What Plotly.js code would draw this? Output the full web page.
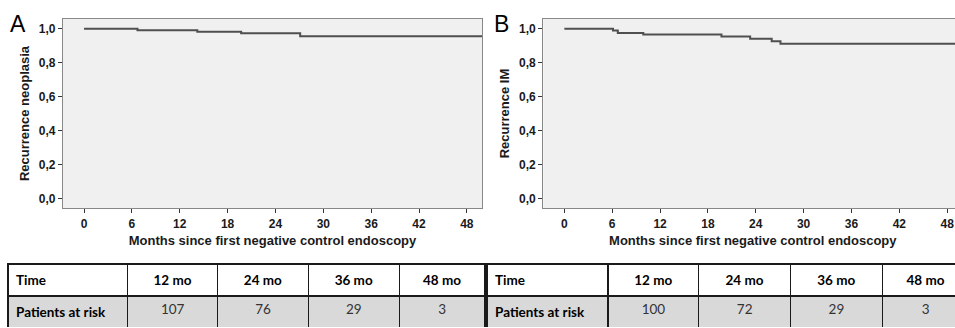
<!DOCTYPE html>
<html>
<head>
<meta charset="utf-8">
<script src="https://cdn.plot.ly/plotly-3.0.1.min.js"></script>
<style>
html,body{margin:0;padding:0;overflow:hidden;background:#fff;}
#chart{width:970px;height:328px;}
</style>
</head>
<body>
<div id="chart"></div>
<script>
// ---- data ----
var panelLetters = ["A", "B"];
var yTitles = ["Recurrence neoplasia", "Recurrence IM"];
var xTitle = "Months since first negative control endoscopy";

var timesA = [0, 6.7, 14.2, 19.7, 27.1, 50];
var survA  = [1.0, 0.991, 0.982, 0.973, 0.956, 0.956];

var timesB = [0, 6.1, 6.7, 9.9, 19.7, 23.3, 26.0, 27.1, 50];
var survB  = [1.0, 0.989, 0.974, 0.966, 0.954, 0.940, 0.926, 0.911, 0.911];

var xTickVals = [0, 6, 12, 18, 24, 30, 36, 42, 48];
var xTickText = ["0", "6", "12", "18", "24", "30", "36", "42", "48"];
var yTickVals = [0, 0.2, 0.4, 0.6, 0.8, 1.0];
var yTickText = ["0,0", "0,2", "0,4", "0,6", "0,8", "1,0"];

var tableHeader = ["Time", "12 mo", "24 mo", "36 mo", "48 mo"];
var rowLabel = "Patients at risk";
var atRiskA = [107, 76, 29, 3];
var atRiskB = [100, 72, 29, 3];

// ---- layout helpers ----
var W = 970, H = 328;
function px(x){ return x / W; }
function py(y){ return 1 - y / H; }
function bold(s){ return "<b>" + s + "</b>"; }

var tickFont = {family: "Liberation Sans, Arial, sans-serif", size: 12, color: "#1a1a1a"};
var titleFont = {family: "Liberation Sans, Arial, sans-serif", size: 13, color: "#1a1a1a"};
var lineCol = "#4f4f4f";

function kmTrace(t, s, xa, ya){
  return {type: "scatter", mode: "lines", x: t, y: s, xaxis: xa, yaxis: ya,
    line: {shape: "hv", color: lineCol, width: 2}, hoverinfo: "skip", showlegend: false};
}

function tableTrace(vals, x0, x1){
  var headerVals = tableHeader.map(function(h){ return [bold(h)]; });
  var cellVals = [[bold(rowLabel)]].concat(vals.map(function(v){ return [String(v)]; }));
  return {type: "table",
    domain: {x: [px(x0), px(x1)], y: [0, py(264)]},
    columnwidth: [120, 90, 91, 91, 86],
    header: {values: headerVals, align: ["left", "center", "center", "center", "center"],
      fill: {color: "#ffffff"}, line: {color: "#1a1a1a", width: 1.2}, height: 28,
      font: {family: "Lato, Open Sans, sans-serif", size: 13.5, color: "#000"}},
    cells: {values: cellVals, align: ["left", "center", "center", "center", "center"],
      fill: {color: "#d9d9d9"}, line: {color: "#1a1a1a", width: 1.2}, height: 36,
      font: {family: "Lato, Open Sans, sans-serif", size: 13.5, color: ["#000", "#333", "#333", "#333", "#333"]}}
  };
}

function xAxis(domain, anchor){
  return {domain: domain, anchor: anchor, range: [-2.64, 49.9],
    tickvals: xTickVals, ticktext: xTickText.map(bold), ticks: "outside", ticklen: 4, tickcolor: "#333", tickwidth: 1,
    showgrid: false, zeroline: false, showline: true, mirror: true, linecolor: "#888", linewidth: 1.2,
    tickfont: tickFont,
    title: {text: bold(xTitle), font: titleFont, standoff: 6}};
}
function yAxis(anchor, title){
  return {domain: [py(208), py(19)], anchor: anchor, range: [-0.057, 1.057],
    tickvals: yTickVals, ticktext: yTickText.map(bold), ticks: "outside", ticklen: 4, tickcolor: "#333", tickwidth: 1,
    showgrid: false, zeroline: false, showline: true, mirror: true, linecolor: "#888", linewidth: 1.2,
    tickfont: tickFont,
    title: {text: bold(title), font: titleFont, standoff: 6}};
}

var data = [
  kmTrace(timesA, survA, "x", "y"),
  kmTrace(timesB, survB, "x2", "y2"),
  tableTrace(atRiskA, 8, 486),
  tableTrace(atRiskB, 487, 969)
];

var layout = {
  width: W, height: H,
  margin: {l: 0, r: 0, t: 0, b: 0, pad: 0},
  paper_bgcolor: "#ffffff", plot_bgcolor: "#f0f0f0",
  showlegend: false,
  xaxis: xAxis([px(63), px(482)], "y"),
  yaxis: yAxis("x", yTitles[0]),
  xaxis2: xAxis([px(543.3), px(962.3)], "y2"),
  yaxis2: yAxis("x2", yTitles[1]),
  annotations: panelLetters.map(function(l, i){
    return {text: l, xref: "paper", yref: "paper", x: px(i === 0 ? 18 : 501), y: py(24),
      xanchor: "center", yanchor: "middle", showarrow: false,
      font: {family: "Liberation Sans, Arial, sans-serif", size: 23, color: "#000"}};
  })
};

Plotly.newPlot("chart", data, layout, {staticPlot: true, displayModeBar: false});
</script>
</body>
</html>
